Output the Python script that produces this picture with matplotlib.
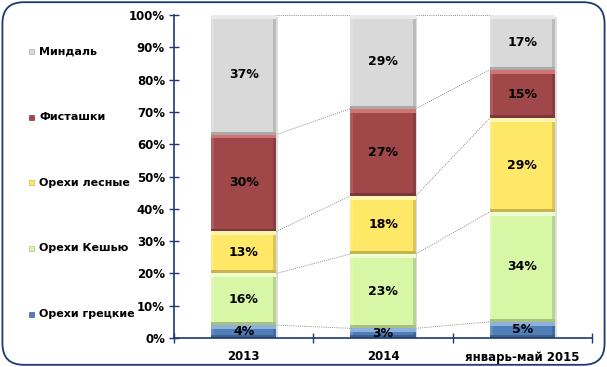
import matplotlib
matplotlib.use("Agg")
import matplotlib.pyplot as plt
import numpy as np
from matplotlib.patches import FancyBboxPatch, Rectangle
import matplotlib.colors as mcolors

categories = ["2013", "2014", "январь-май 2015"]
series_names = ["Орехи грецкие", "Орехи Кешью", "Орехи лесные", "Фисташки", "Миндаль"]
walnut = [4, 3, 5]
cashew = [16, 23, 34]
hazel = [13, 18, 29]
pistachio = [30, 27, 15]
almond = [37, 29, 17]
series_values = [walnut, cashew, hazel, pistachio, almond]
colors = ["#4F7EB8", "#D8F7A6", "#FFE768", "#A0474A", "#D9D9D9"]
highlights = ["#8DB1DD", "#EEFFD0", "#FFF6B0", "#D27474", "#EAEAEA"]

navy = "#1B3A73"
plt.rcParams['font.family'] = ['DejaVu Sans']

fig = plt.figure(figsize=(6.07, 3.67), dpi=100)
fig.patch.set_facecolor("white")
border = FancyBboxPatch((0.004, 0.006), 0.992, 0.988, boxstyle="round,pad=0,rounding_size=0.035",
                        transform=fig.transFigure, facecolor="white", edgecolor=navy, linewidth=1.3,
                        mutation_aspect=607/367, zorder=-5)
fig.patches.append(border)

ax = fig.add_axes([174/607, 29/367, 418/607, 323/367])
ax.set_zorder(2)
ax.set_facecolor("none")
x = np.arange(len(categories))
w = 0.47
sw = 0.022
# drop shadow to the right of each bar
ax.bar(x + 0.012, np.full(3, 0.995), w, bottom=0, color="#C8C8C8", alpha=0.6, linewidth=0, zorder=2.5)
bottom = np.zeros(len(categories))
tops = []
for vals, col, hl in zip(series_values, colors, highlights):
    vals = np.array(vals, dtype=float) / 100.0
    rgb = np.array(mcolors.to_rgb(col))
    dark = tuple(rgb * 0.78)
    rside = tuple(rgb * 0.86)
    lside = tuple(rgb + (1 - rgb) * 0.12)
    ax.bar(x, vals, w, bottom=bottom, color=col, linewidth=0, zorder=3)
    ax.bar(x - w / 2 + sw / 2, vals, sw, bottom=bottom, color=lside, linewidth=0, zorder=3.5)
    ax.bar(x + w / 2 - sw / 2, vals, sw, bottom=bottom, color=rside, linewidth=0, zorder=3.5)
    ax.bar(x, np.full(3, 0.012), w, bottom=bottom + vals - 0.012, color=hl, linewidth=0, zorder=4)
    ax.bar(x, np.full(3, 0.009), w, bottom=bottom, color=dark, linewidth=0, zorder=4)
    for xi, b, v in zip(x, bottom, vals):
        ax.text(xi, b + v / 2, f"{round(v*100)}%", ha="center", va="center",
                fontsize=9, fontweight="bold", color="black", zorder=5)
    bottom = bottom + vals
    tops.append(bottom.copy())

for t in tops:
    for i in range(len(categories) - 1):
        ax.plot([x[i] + w / 2, x[i + 1] - w / 2], [t[i], t[i + 1]], linestyle=(0, (1, 1.2)),
                color="#8C8C8C", linewidth=0.7, zorder=2, clip_on=False)

ax.set_xlim(-0.5, len(categories) - 0.5)
ax.set_ylim(0, 1)
ax.set_yticks(np.linspace(0, 1, 11))
ax.set_yticklabels([f"{int(round(v*100))}%" for v in np.linspace(0, 1, 11)], fontsize=8.5, fontweight="bold")
ax.set_xticks(x)
ax.set_xticklabels(categories, fontsize=8.5, fontweight="bold")
ax.set_xticks(np.arange(-0.5, len(categories)), minor=True)
ax.tick_params(axis="x", which="major", length=0, pad=9)
ax.tick_params(axis="x", which="minor", direction="inout", length=7, color=navy, width=1)
ax.tick_params(axis="y", direction="inout", length=7, color=navy, width=1, pad=3)
for s in ["top", "right"]:
    ax.spines[s].set_visible(False)
for s in ["left", "bottom"]:
    ax.spines[s].set_color(navy)
    ax.spines[s].set_linewidth(1.2)
    ax.spines[s].set_zorder(6)

legend_y = [51, 117, 183, 248, 314]
for name, col, yy in zip(series_names[::-1], colors[::-1], legend_y):
    fy = 1 - yy / 367
    fig.patches.append(Rectangle((29/607, fy - 2.5/367), 5/607, 5/367, transform=fig.transFigure,
                                 facecolor=col, edgecolor=tuple(np.array(mcolors.to_rgb(col))*0.8),
                                 linewidth=0.5, zorder=3))
    fig.text(39/607, fy, name, fontsize=8, fontweight="bold", va="center", ha="left", zorder=3)

fig.savefig("out.png", dpi=100)
